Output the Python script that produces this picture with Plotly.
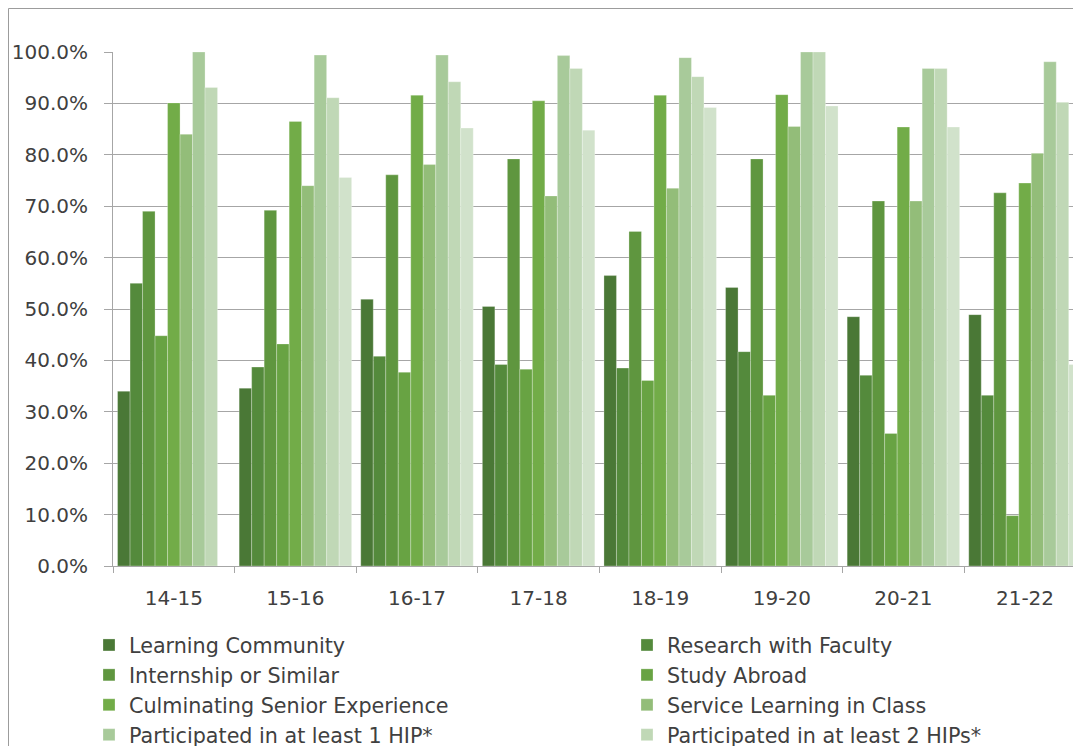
import plotly.graph_objects as go

years = ["14-15", "15-16", "16-17", "17-18", "18-19", "19-20", "20-21", "21-22"]

learning_community = [34.0, 34.6, 51.9, 50.5, 56.5, 54.2, 48.5, 48.9]
research_with_faculty = [55.0, 38.7, 40.8, 39.2, 38.5, 41.7, 37.1, 33.2]
internship_or_similar = [69.0, 69.2, 76.1, 79.2, 65.1, 79.2, 71.0, 72.6]
study_abroad = [44.8, 43.2, 37.7, 38.3, 36.1, 33.2, 25.8, 9.8]
culminating_senior = [90.1, 86.5, 91.6, 90.5, 91.6, 91.7, 85.4, 74.5]
service_learning = [84.0, 74.0, 78.1, 72.0, 73.5, 85.5, 71.0, 80.3]
at_least_1_hip = [100.0, 99.4, 99.4, 99.3, 98.9, 100.0, 96.8, 98.1]
at_least_2_hips = [93.1, 91.1, 94.2, 96.8, 95.2, 100.0, 96.8, 90.2]
at_least_3_hips = [None, 75.6, 85.2, 84.8, 89.2, 89.5, 85.4, 39.2]

series_names = [
    "Learning Community",
    "Research with Faculty",
    "Internship or Similar",
    "Study Abroad",
    "Culminating Senior Experience",
    "Service Learning in Class",
    "Participated in at least 1 HIP*",
    "Participated in at least 2 HIPs*",
    "Participated in at least 3 HIPs*",
]
series_values = [
    learning_community, research_with_faculty, internship_or_similar,
    study_abroad, culminating_senior, service_learning,
    at_least_1_hip, at_least_2_hips, at_least_3_hips,
]
colors = ["#4a7836", "#548a3c", "#5f963f", "#68a343", "#72ac48",
          "#93bd79", "#a8ca9a", "#c0d8b6", "#d1e2cb"]
# legend column for each series (the 9th entry is cut off in the reference)
legend_refs = ["legend", "legend2", "legend", "legend2", "legend", "legend2",
               "legend", "legend2", None]

FONT = "DejaVu Sans"
TXT = "#404040"
GRID = "#a6a6a6"

fig = go.Figure()
for i, (name, vals, col, lg) in enumerate(zip(series_names, series_values, colors, legend_refs)):
    fig.add_trace(go.Bar(
        x=years, y=vals, name=name,
        showlegend=lg is not None, legend=lg or "legend",
        legendgroup=f"g{i}",
        marker=dict(color=col, line=dict(width=0.6, color="rgba(255,255,255,0.45)")),
    ))

# the page body has an 8px margin, so the figure starts at window (8, 8)
OFF = 8
W, H = 1081, 746
L, T = 113 - OFF, 52 - OFF
R = W - (1081 - OFF)
B = H - (566 - OFF)
pw = W - L - R
ph = H - T - B

def px_x(p):
    return (p - OFF - L) / pw

def px_y(p):
    return (H - B - (p - OFF)) / ph

legend_common = dict(
    orientation="v", xref="container", yref="container",
    xanchor="left", yanchor="top",
    font=dict(family=FONT, size=20.7, color=TXT),
    bgcolor="rgba(0,0,0,0)", traceorder="grouped", tracegroupgap=0,
)

fig.update_layout(
    width=W, height=H,
    margin=dict(l=L, r=R, t=T, b=B, autoexpand=False),
    paper_bgcolor="white", plot_bgcolor="white",
    barmode="group", bargap=0.075, bargroupgap=0,
    font=dict(family=FONT, size=20, color=TXT),
    xaxis=dict(
        type="category", range=[-0.5, -0.5 + pw / 121.6],
        tickson="boundaries", ticks="outside", ticklen=6, tickcolor=GRID,
        showline=True, linecolor=GRID, linewidth=1,
        showgrid=False, ticklabelstandoff=14,
        tickfont=dict(family=FONT, size=20, color=TXT),
    ),
    yaxis=dict(
        range=[0, 100], dtick=10, tickformat=".1f", ticksuffix="%",
        ticks="outside", ticklen=8, tickcolor=GRID,
        showline=True, linecolor=GRID, linewidth=1,
        showgrid=True, gridcolor=GRID, gridwidth=1,
        zeroline=False, ticklabelstandoff=12,
        tickfont=dict(family=FONT, size=20, color=TXT),
    ),
    legend=dict(x=81 / W, y=1 - 617 / H, **legend_common),
    legend2=dict(x=619 / W, y=1 - 617 / H, **legend_common),
    shapes=[dict(
        type="rect", xref="paper", yref="paper",
        x0=px_x(8.5), x1=px_x(1200), y0=px_y(900), y1=px_y(8.5),
        line=dict(color="#9c9c9c", width=1), fillcolor="rgba(0,0,0,0)",
        layer="above",
    )],
)

fig.write_html("out.html")
